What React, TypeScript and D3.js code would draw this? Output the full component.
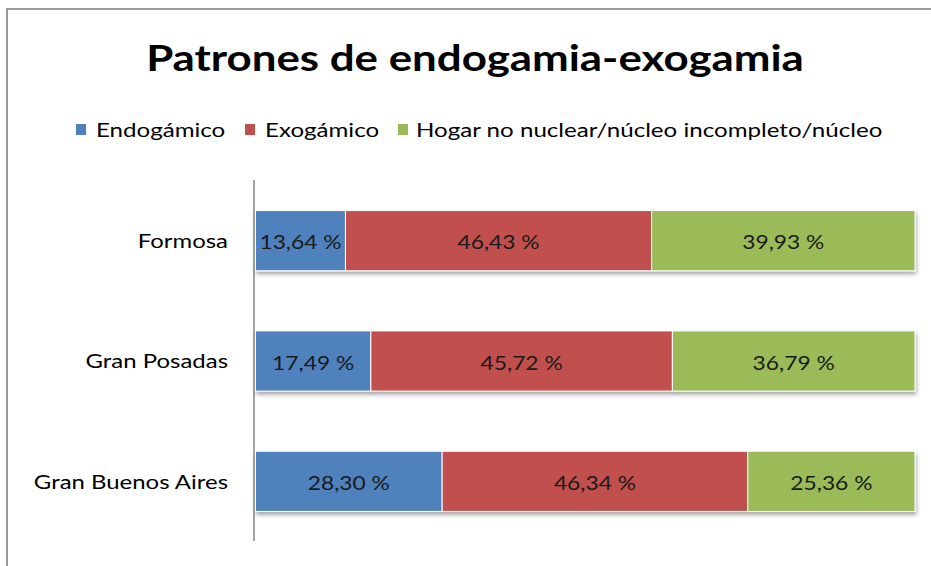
import React from "react";
import * as d3 from "d3";

const categories = ["Formosa", "Gran Posadas", "Gran Buenos Aires"];
const seriesNames = ["Endogámico", "Exogámico", "Hogar no nuclear/núcleo incompleto/núcleo"];
const endogamico = [13.64, 17.49, 28.3];
const exogamico = [46.43, 45.72, 46.34];
const hogar = [39.93, 36.79, 25.36];
const colors = ["#4F81BD", "#C0504D", "#9BBB59"];
const title = "Patrones de endogamia-exogamia";

const W = 931;
const H = 566;
const FONT = "Lato, 'Open Sans', sans-serif";

type Row = { cat: string; s0: number; s1: number; s2: number };
const rows: Row[] = categories.map((c, i) => ({ cat: c, s0: endogamico[i], s1: exogamico[i], s2: hogar[i] }));

const fmt = (v: number) => v.toFixed(2).replace(".", ",") + " %";

function SText(props: {
  x: number;
  y: number;
  sx: number;
  anchor?: string;
  size: number;
  weight?: number;
  fill?: string;
  dy?: string;
  children: React.ReactNode;
}) {
  const { x, y, sx, anchor = "start", size, weight = 400, fill = "#000", dy, children } = props;
  return (
    <text
      transform={`translate(${x},${y}) scale(${sx},1)`}
      textAnchor={anchor}
      fontSize={size}
      fontWeight={weight}
      fill={fill}
      dy={dy}
    >
      {children}
    </text>
  );
}

export default function App() {
  const x = d3.scaleLinear().domain([0, 100]).range([255.5, 915]);
  const y = d3.scaleBand<string>().domain(categories).range([180.5, 541.5]).paddingInner(0.5).paddingOuter(0.25);
  const stack = d3.stack<Row>().keys(["s0", "s1", "s2"]);
  const layers = stack(rows);

  const legendItems = [
    { name: seriesNames[0], sx: 76, tx: 96 },
    { name: seriesNames[1], sx: 245, tx: 265 },
    { name: seriesNames[2], sx: 398, tx: 416 },
  ];

  return (
    <svg width={W} height={H} style={{ position: "fixed", left: 0, top: 0, background: "#fff" }} fontFamily={FONT}>
      <defs>
        <filter id="sh" x="-5%" y="-20%" width="110%" height="160%">
          <feDropShadow dx="1" dy="3" stdDeviation="2" floodColor="#000" floodOpacity="0.35" />
        </filter>
      </defs>
      <rect x={0} y={0} width={W} height={H} fill="#fff" />
      <rect x={7} y={9} width={W + 20} height={H + 20} fill="none" stroke="#9a9a9a" strokeWidth={2} />
      <SText x={475} y={71} sx={1.185} anchor="middle" size={37} weight={700}>
        {title}
      </SText>
      {legendItems.map((d, i) => (
        <g key={d.name}>
          <rect x={d.sx} y={124} width={10} height={11} fill={colors[i]} />
          <SText x={d.tx} y={137} sx={1.27} size={19}>
            {d.name}
          </SText>
        </g>
      ))}
      <line x1={254} x2={254} y1={180} y2={541} stroke="#868686" strokeWidth={1.5} />
      {categories.map((c) => (
        <SText key={c} x={228} y={(y(c) as number) + y.bandwidth() / 2} dy="0.38em" sx={1.26} anchor="end" size={19}>
          {c}
        </SText>
      ))}
      <g filter="url(#sh)">
        {layers.map((layer, li) =>
          layer.map((d) => (
            <rect
              key={layer.key + d.data.cat}
              x={x(d[0])}
              y={y(d.data.cat)}
              width={x(d[1]) - x(d[0])}
              height={y.bandwidth()}
              fill={colors[li]}
              stroke="#fff"
              strokeWidth={1}
            />
          ))
        )}
      </g>
      {layers.map((layer) =>
        layer.map((d) => (
          <SText
            key={"t" + layer.key + d.data.cat}
            x={(x(d[0]) + x(d[1])) / 2}
            y={(y(d.data.cat) as number) + y.bandwidth() / 2}
            dy="0.45em"
            sx={1.2}
            anchor="middle"
            size={19}
            fill="#1a1a1a"
          >
            {fmt(d[1] - d[0])}
          </SText>
        ))
      )}
    </svg>
  );
}
